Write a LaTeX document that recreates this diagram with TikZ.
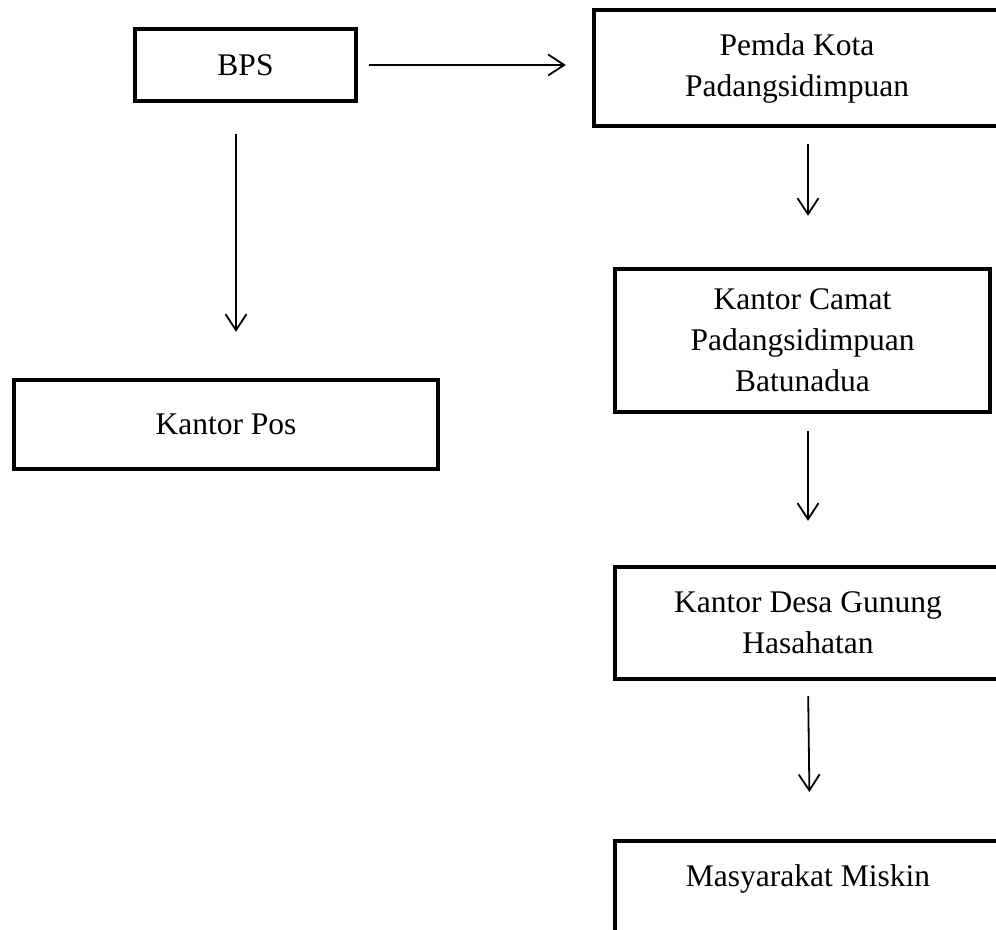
\documentclass[tikz,border=0pt]{standalone}
\usepackage{fontspec}
\setmainfont{Liberation Serif}
\usetikzlibrary{arrows.meta}
\tikzset{
  box/.style={draw, line width=2.2pt, rectangle, align=center, inner sep=0pt,
    font=\fontsize{15.75pt}{20.5pt}\selectfont},
  flow/.style={-{Straight Barb[length=8pt,width=10.5pt]}, line width=0.9pt},
}
\begin{document}
\begin{tikzpicture}[x=0.5pt,y=-0.5pt]
  \useasboundingbox (0,0) rectangle (996,930);
  \clip (0,0) rectangle (996,930);

  % Boxes
  \node[box, minimum width=110.5pt, minimum height=36pt] (bps) at (245.5,65) {BPS};
  \node[box, minimum width=203pt, minimum height=58pt] (pemda) at (797,68) {Pemda Kota\\Padangsidimpuan};
  \node[box, minimum width=212pt, minimum height=44.5pt] (pos) at (226,424.5) {Kantor Pos};
  \node[box, minimum width=187.5pt, minimum height=71.5pt] (camat) at (802.5,340.5) {Kantor Camat\\Padangsidimpuan\\Batunadua};
  \node[box, minimum width=193pt, minimum height=56pt] (desa) at (808,623) {Kantor Desa Gunung\\Hasahatan};
  \node[box, minimum width=193pt, anchor=north, inner ysep=11.5pt, text height=11pt, text depth=60pt] (miskin) at (808,839) {Masyarakat Miskin};

  % Arrows
  \draw[flow, shorten <=5.5pt, shorten >=13pt] (bps.east) -- (bps.east -| pemda.west);
  \draw[flow, shorten <=15.5pt, shorten >=23pt] ([xshift=-4.75pt]bps.south) -- ([xshift=-4.75pt]bps.south |- pos.north);
  \draw[flow, shorten <=8pt, shorten >=25.5pt] ([xshift=5.5pt]pemda.south) -- ([xshift=5.5pt]pemda.south |- camat.north);
  \draw[flow, shorten <=8.5pt, shorten >=22pt] ([xshift=2.75pt]camat.south) -- ([xshift=2.75pt]camat.south |- desa.north);
  \draw[flow, shorten <=7.5pt, shorten >=23.5pt] (desa.south) -- ([xshift=1pt]miskin.north);
\end{tikzpicture}
\end{document}
